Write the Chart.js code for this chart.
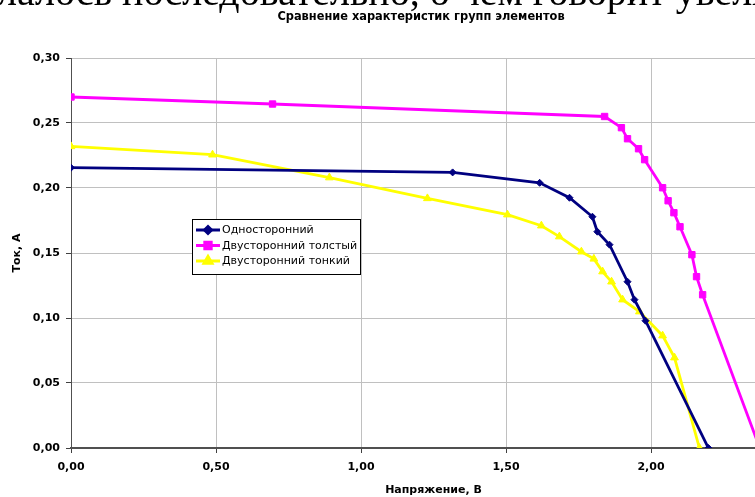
<!DOCTYPE html>
<html>
<head>
<meta charset="utf-8">
<script src="https://cdn.jsdelivr.net/npm/chart.js@4.4.1/dist/chart.umd.min.js"></script>
<style>
  html, body { margin: 0; padding: 0; background: #fff; overflow: hidden; width: 755px; height: 497px; }
  #wrap { position: absolute; left: 0; top: 0; width: 830px; height: 497px; }
  #topText { position: absolute; left: -3px; top: -28px; font-family: 'Liberation Serif', 'Times New Roman', serif; font-size: 40px; line-height: 1; white-space: nowrap; color: #000; z-index: 2; }
</style>
</head>
<body>
<div id="wrap"><canvas id="c" width="830" height="497"></canvas></div>
<div id="topText">лалось последовательно, о чем говорит увеличение</div>
<script>
// ---- data ----
const chartTitle = 'Сравнение характеристик групп элементов';
const xTitle = 'Напряжение, В';
const yTitle = 'Ток, А';
const seriesNames = ['Односторонний', 'Двусторонний толстый', 'Двусторонний тонкий'];

const oneSidedV = [0.000, 1.316, 1.616, 1.719, 1.798, 1.815, 1.857, 1.919, 1.943, 1.981, 2.198];
const oneSidedI = [0.2156, 0.212, 0.204, 0.1925, 0.1779, 0.1664, 0.1564, 0.1279, 0.1141, 0.0979, 0.000];

const thickV = [0.000, 0.695, 1.840, 1.898, 1.919, 1.957, 1.978, 2.040, 2.059, 2.079, 2.100, 2.141, 2.157, 2.178, 2.375];
const thickI = [0.270, 0.2646, 0.255, 0.2464, 0.2379, 0.2302, 0.2218, 0.2002, 0.1902, 0.1810, 0.1702, 0.1487, 0.1318, 0.1179, 0.000];

const thinV = [0.000, 0.488, 0.891, 1.229, 1.505, 1.622, 1.684, 1.760, 1.803, 1.833, 1.864, 1.902, 1.960, 2.040, 2.081, 2.167];
const thinI = [0.232, 0.2256, 0.208, 0.192, 0.1795, 0.171, 0.1626, 0.151, 0.1455, 0.1357, 0.1279, 0.1141, 0.1049, 0.0864, 0.0695, 0.000];

const xTicks = [0, 0.5, 1.0, 1.5, 2.0, 2.5];
const yTicks = [0, 0.05, 0.10, 0.15, 0.20, 0.25, 0.30];

// ---- helpers ----
const toPts = (xs, ys) => xs.map((x, i) => ({ x: x, y: ys[i] }));
const fmt = v => Number(v).toFixed(2).replace('.', ',');
const FONT = "'DejaVu Sans', 'Liberation Sans', Arial, sans-serif";

const colors = ['#000080', '#FF00FF', '#FFFF00'];
const shapes = ['rectRot', 'rect', 'triangle'];
const radii = [3.5, 4.5, 4.5];

const titleAndLegend = {
  id: 'titleAndLegend',
  afterDraw(chart) {
    const ctx = chart.ctx;
    ctx.save();
    // title
    ctx.fillStyle = '#000';
    ctx.font = 'bold 11.4px ' + FONT;
    ctx.textAlign = 'center';
    ctx.textBaseline = 'middle';
    ctx.fillText(chartTitle, 421, 17);
    // legend
    const x0 = 192, y0 = 219, w = 168, h = 55;
    ctx.fillStyle = '#fff';
    ctx.fillRect(x0, y0, w, h);
    ctx.strokeStyle = '#000';
    ctx.lineWidth = 1;
    ctx.strokeRect(x0 + 0.5, y0 + 0.5, w, h);
    const rows = [230, 245.5, 261];
    chart.data.datasets.forEach((ds, i) => {
      const y = rows[i];
      ctx.strokeStyle = ds.borderColor;
      ctx.lineWidth = 3;
      ctx.beginPath();
      ctx.moveTo(196, y);
      ctx.lineTo(220, y);
      ctx.stroke();
      ctx.fillStyle = ds.borderColor;
      Chart.helpers.drawPoint(ctx, { pointStyle: ds.pointStyle, radius: ds.pointRadius, borderWidth: 1 }, 208, y);
      ctx.fillStyle = '#000';
      ctx.font = '11px ' + FONT;
      ctx.textBaseline = 'middle';
      ctx.textAlign = 'left';
      ctx.fillText(ds.label, 222, y + 0.5);
    });
    ctx.restore();
  }
};

const datasets = [
  toPts(oneSidedV, oneSidedI),
  toPts(thickV, thickI),
  toPts(thinV, thinI)
].map((pts, i) => ({
  label: seriesNames[i],
  data: pts,
  borderColor: colors[i],
  backgroundColor: colors[i],
  pointBackgroundColor: colors[i],
  pointBorderColor: colors[i],
  pointStyle: shapes[i],
  pointRadius: radii[i],
  pointBorderWidth: 1,
  borderWidth: 2.8,
  tension: 0,
  fill: false
}));

new Chart(document.getElementById('c'), {
  type: 'line',
  data: { datasets: datasets },
  plugins: [titleAndLegend],
  options: {
    responsive: false,
    animation: false,
    layout: { padding: { left: 0, right: 34, top: 58, bottom: 0 } },
    plugins: {
      legend: { display: false },
      tooltip: { enabled: false },
      title: { display: false }
    },
    scales: {
      x: {
        type: 'linear',
        min: 0, max: 2.5,
        afterFit: s => { s.height = 49; },
        afterBuildTicks: s => { s.ticks = xTicks.map(v => ({ value: v })); },
        ticks: { callback: v => fmt(v), color: '#000', font: { family: FONT, size: 11, weight: 'bold' }, padding: 8, maxRotation: 0 },
        grid: { color: '#c0c0c0', lineWidth: 1, tickLength: 5, tickColor: '#404040' },
        border: { color: '#505050', width: 2 },
        title: { display: true, text: xTitle, color: '#000', font: { family: FONT, size: 11, weight: 'bold' }, padding: { top: 0, bottom: 0 } }
      },
      y: {
        type: 'linear',
        min: 0, max: 0.30,
        afterFit: s => { s.width = 71; },
        afterBuildTicks: s => { s.ticks = yTicks.map(v => ({ value: v })); },
        ticks: { callback: v => fmt(v), color: '#000', font: { family: FONT, size: 11, weight: 'bold' }, padding: 6 },
        grid: { color: '#c0c0c0', lineWidth: 1, tickLength: 5, tickColor: '#404040' },
        border: { color: '#505050', width: 1 },
        title: { display: true, text: yTitle, color: '#000', font: { family: FONT, size: 11, weight: 'bold' }, padding: { top: 11, bottom: 0 } }
      }
    }
  }
});
</script>
</body>
</html>
